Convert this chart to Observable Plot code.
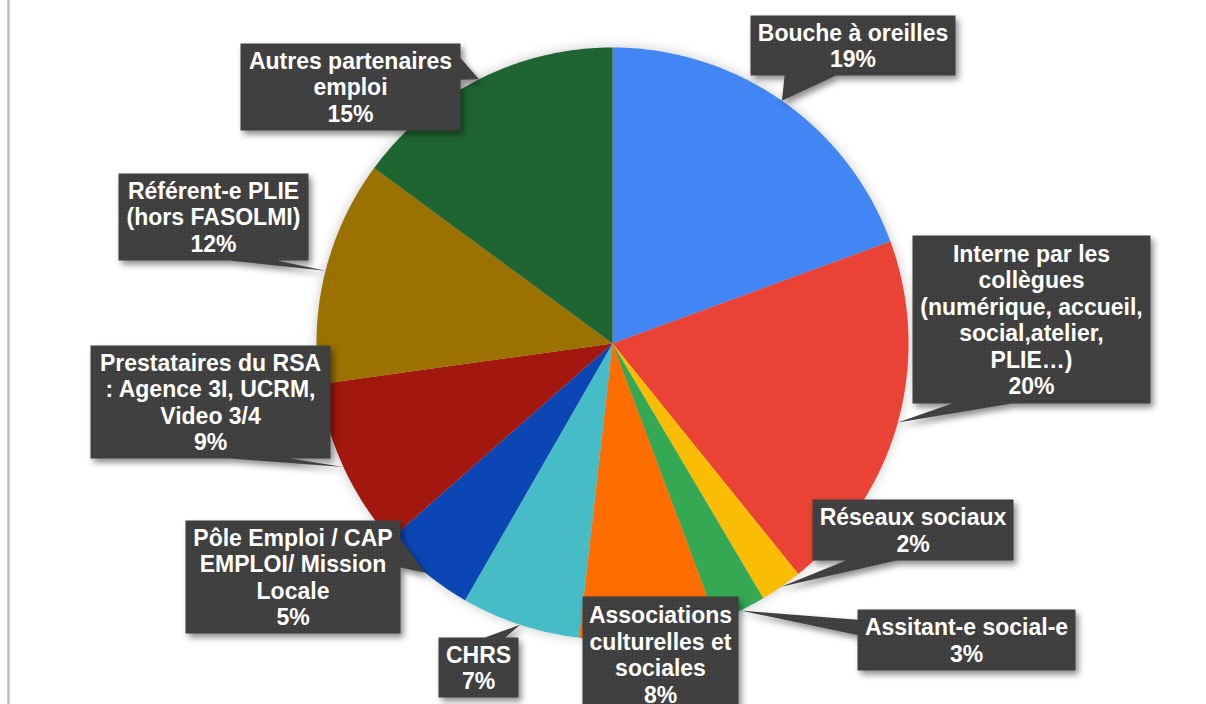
<!DOCTYPE html>
<html>
<head>
<meta charset="utf-8">
<script src="https://cdn.jsdelivr.net/npm/d3@7"></script>
<script src="https://cdn.jsdelivr.net/npm/@observablehq/plot@0.6"></script>
<style>
html,body{margin:0;padding:0;background:#fff;overflow:hidden}
#chart{position:relative;width:1206px;height:704px}
</style>
</head>
<body>
<div id="chart"></div>
<script>
// ---- data ----
const categories = [
  "Bouche à oreilles",
  "Interne par les collègues (numérique, accueil, social,atelier, PLIE…)",
  "Réseaux sociaux",
  "Assitant-e social-e",
  "Associations culturelles et sociales",
  "CHRS",
  "Pôle Emploi / CAP EMPLOI/ Mission Locale",
  "Prestataires du RSA : Agence 3I, UCRM, Video 3/4",
  "Référent-e PLIE (hors FASOLMI)",
  "Autres partenaires emploi"
];
const labelTexts = [
  "Bouche à oreilles",
  "Interne par les\ncollègues\n(numérique, accueil,\nsocial,atelier,\nPLIE…)",
  "Réseaux sociaux",
  "Assitant-e social-e",
  "Associations\nculturelles et\nsociales",
  "CHRS",
  "Pôle Emploi / CAP\nEMPLOI/ Mission\nLocale",
  "Prestataires du RSA\n: Agence 3I, UCRM,\nVideo 3/4",
  "Référent-e PLIE\n(hors FASOLMI)",
  "Autres partenaires\nemploi"
];
// shares (%); labels show rounded values
const shares = [19.4, 19.8, 2.3, 2.8, 7.5, 6.5, 5.2, 9.3, 12.3, 14.9];
const colors = ["#4285F4", "#EA4335", "#FBBC04", "#34A853", "#FF6D01",
                "#46BDC6", "#0B46B4", "#A2180E", "#9B7100", "#1F6532"];

// ---- layout (pixels) ----
const W = 1206, H = 704, CX = 612, CY = 343, R = 296;
const boxes = [ // [left, top, right, bottom] of each callout box
  [750, 15, 955, 75],
  [912, 235, 1150, 403],
  [812, 499, 1013, 560],
  [857, 609, 1075, 670],
  [582, 596, 738, 712],
  [438, 637, 518, 697],
  [185, 520, 400, 633],
  [90, 345, 330, 458],
  [118, 173, 308, 260],
  [240, 43, 460, 130]
];

// ---- geometry ----
const arcs = d3.pie().sort(null).value(d => d)(shares);
const slicePts = [];
arcs.forEach((p, i) => {
  const n = Math.max(4, Math.ceil((p.endAngle - p.startAngle) / (Math.PI / 360)));
  slicePts.push({cat: categories[i], x: CX, y: CY});
  for (let k = 0; k <= n; k++) {
    const a = p.startAngle + (p.endAngle - p.startAngle) * k / n;
    slicePts.push({cat: categories[i], x: CX + R * Math.sin(a), y: CY - R * Math.cos(a)});
  }
  slicePts.push({cat: categories[i], x: CX, y: CY});
});

// callout shapes (rectangle + wedge pointing to slice mid-angle on the rim)
const calloutPts = [];
const labels = [];
arcs.forEach((p, i) => {
  const [l, t, r, b] = boxes[i];
  const w = r - l, h = b - t, hc = (l + r) / 2, vc = (t + b) / 2;
  const m = (p.startAngle + p.endAngle) / 2;
  const tx = CX + R * Math.sin(m), ty = CY - R * Math.cos(m);
  const dx = tx - hc, dy = ty - vc;
  const inside = tx > l && tx < r && ty > t && ty < b;
  const x1 = l + w * (dx > 0 ? 7 : 2) / 12, x2 = l + w * (dx > 0 ? 10 : 5) / 12;
  const y1 = t + h * (dy > 0 ? 7 : 2) / 12, y2 = t + h * (dy > 0 ? 10 : 5) / 12;
  const vert = Math.abs(dy) - Math.abs(dx * h / w) > 0;
  const pts = [];
  pts.push([l, t]);
  if (!inside && vert && dy < 0) pts.push([x1, t], [tx, ty], [x2, t]);
  pts.push([r, t]);
  if (!inside && !vert && dx > 0) pts.push([r, y1], [tx, ty], [r, y2]);
  pts.push([r, b]);
  if (!inside && vert && dy > 0) pts.push([x2, b], [tx, ty], [x1, b]);
  pts.push([l, b]);
  if (!inside && !vert && dx < 0) pts.push([l, y2], [tx, ty], [l, y1]);
  pts.push([l, t]);
  pts.forEach(([x, y]) => calloutPts.push({id: i, x, y}));
  labels.push({x: hc, y: vc, text: labelTexts[i] + "\n" + Math.round(shares[i]) + "%"});
});

const svg = Plot.plot({
  width: W, height: H, margin: 0,
  x: {domain: [0, W], range: [0, W], axis: null},
  y: {domain: [0, H], range: [0, H], axis: null},
  color: {domain: categories, range: colors},
  style: {background: "transparent", overflow: "visible"},
  marks: [
    Plot.ruleX([8], {stroke: "#bdbdbd", strokeWidth: 2.5}),
    Plot.line(slicePts, {x: "x", y: "y", z: "cat", fill: "cat", stroke: "none", curve: "linear"}),
    Plot.line(calloutPts, {x: "x", y: "y", z: "id", fill: "url(#dots)", stroke: "none", curve: "linear"}),
    Plot.text(labels, {
      x: "x", y: "y", text: "text", fill: "white",
      fontSize: 23, fontWeight: "bold",
      fontFamily: "'Liberation Sans', Arial, sans-serif",
      lineHeight: 1.15, textAnchor: "middle", lineAnchor: "middle"
    })
  ]
});

// pattern + shadows
const ns = "http://www.w3.org/2000/svg";
const defs = document.createElementNS(ns, "defs");
defs.innerHTML = `<pattern id="dots" width="4" height="4" patternUnits="userSpaceOnUse">
  <rect width="4" height="4" fill="#3d3d3d"/>
  <circle cx="2" cy="2" r="0.9" fill="#4b4b4b"/></pattern>`;
svg.insertBefore(defs, svg.firstChild);
const lineGroups = svg.querySelectorAll('g[aria-label="line"]');
if (lineGroups[0]) lineGroups[0].style.filter = "drop-shadow(0px 0px 6px rgba(0,0,0,0.22))";
if (lineGroups[1]) lineGroups[1].style.filter = "drop-shadow(3px 4px 3px rgba(0,0,0,0.45))";

document.getElementById("chart").appendChild(svg);
</script>
</body>
</html>
